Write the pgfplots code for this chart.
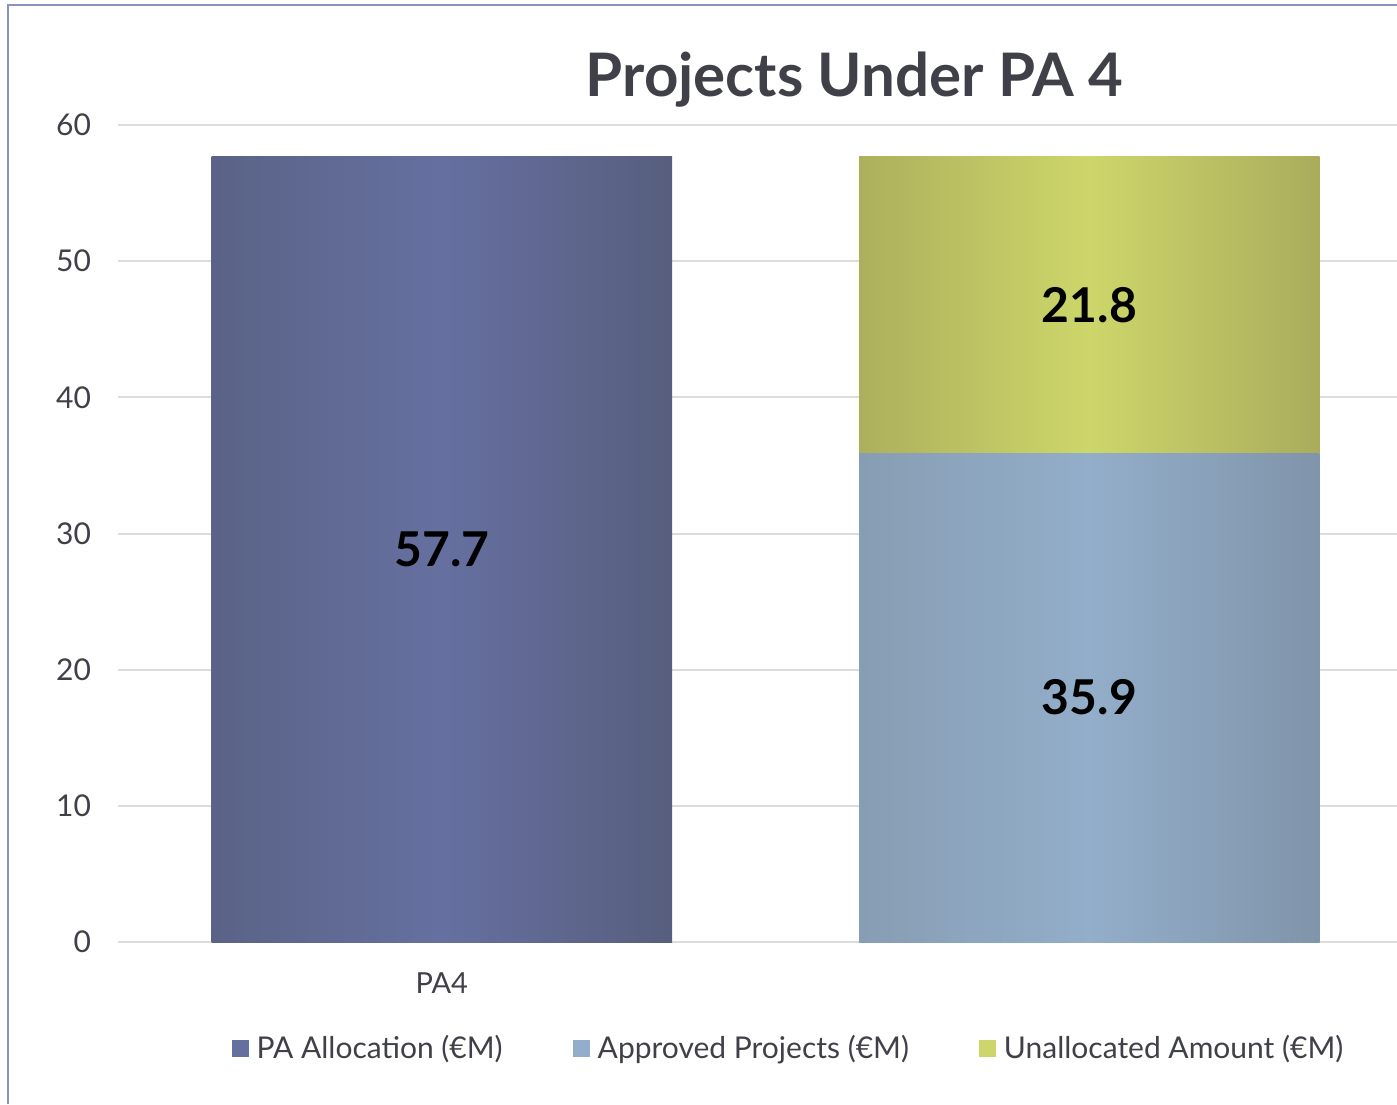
\documentclass[border=0pt]{standalone}
\usepackage{pgfplots}
\pgfplotsset{compat=1.18}
\usepackage{fontspec}
\setmainfont{Lato}

\definecolor{txt}{HTML}{404048}
\definecolor{framec}{HTML}{8A93B8}
\definecolor{gridc}{HTML}{DCDCDC}
\definecolor{paA}{HTML}{6670A0}
\definecolor{paL}{HTML}{5A6386}
\definecolor{paR}{HTML}{575E7E}
\definecolor{apA}{HTML}{93AECA}
\definecolor{apL}{HTML}{879DB3}
\definecolor{apR}{HTML}{8094AA}
\definecolor{unA}{HTML}{CDD66A}
\definecolor{unL}{HTML}{ACB05C}
\definecolor{unR}{HTML}{AAAC5C}

\pgfplotsset{
  common/.style={
    scale only axis, width=639.5pt, height=408.5pt,
    xmin=-0.5, xmax=1.475, ymin=0, ymax=60,
    bar width=0.711,
  },
}

\begin{document}
\begin{tikzpicture}
\useasboundingbox (-59pt,-81pt) rectangle (639.5pt,471pt);
\draw[framec, line width=1pt] (-55pt,-81pt) -- (-55pt,468.5pt) -- (639.5pt,468.5pt);

% axis with grid, ticks, legend and the allocation bar
\begin{axis}[
    common, ybar,
    axis line style={draw=none},
    ymajorgrids, grid style={gridc, line width=1pt},
    major tick length=0pt,
    ytick={0,10,20,30,40,50,60},
    xtick={0}, xticklabels={PA4},
    /pgf/number format/assume math mode=true,
    tick label style={font=\fontsize{15}{18}\selectfont, text=txt},
    yticklabel style={xshift=-10pt},
    xticklabel style={yshift=-12pt, font=\fontsize{14.5}{18}\selectfont},
    title={Projects Under PA 4},
    title style={at={(0.576,1)}, anchor=base, yshift=8pt,
      font=\fontsize{30}{36}\selectfont\bfseries, text=txt},
    legend columns=3,
    legend style={at={(0.525,-0.13)}, anchor=center, draw=none, fill=none,
      font=\fontsize{15}{18}\selectfont, text=txt,
      /tikz/every odd column/.append style={column sep=2pt},
      /tikz/every even column/.append style={column sep=33pt}},
    legend image code/.code={\fill[#1] (0pt,-4.25pt) rectangle (8.5pt,4.25pt);},
]
\addplot[forget plot, draw=none, bar shift=0pt,
  left color=paL, right color=paR, middle color=paA]
  coordinates {(0,57.7)};
\addlegendimage{fill=paA, draw=none}
\addlegendentry{PA Allocation (€M)}
\addlegendimage{fill=apA, draw=none}
\addlegendentry{Approved Projects (€M)}
\addlegendimage{fill=unA, draw=none}
\addlegendentry{Unallocated Amount (€M)}
\end{axis}

% stacked bar
\begin{axis}[common, ybar stacked, hide axis]
\addplot[draw=none, left color=apL, right color=apR, middle color=apA]
  coordinates {(1,35.9)};
\addplot[draw=none, left color=unL, right color=unR, middle color=unA]
  coordinates {(1,21.8)};
\end{axis}

% value labels, placed at the middle of each segment
\begin{axis}[common, hide axis]
\addplot[only marks, mark=none, point meta=explicit symbolic,
  nodes near coords,
  every node near coord/.style={anchor=center, text=black,
    font=\fontsize{24}{28}\selectfont\bfseries}]
  coordinates {(0,28.85)[57.7] (1,17.95)[35.9] (1,46.8)[21.8]};
\end{axis}
\end{tikzpicture}
\end{document}
